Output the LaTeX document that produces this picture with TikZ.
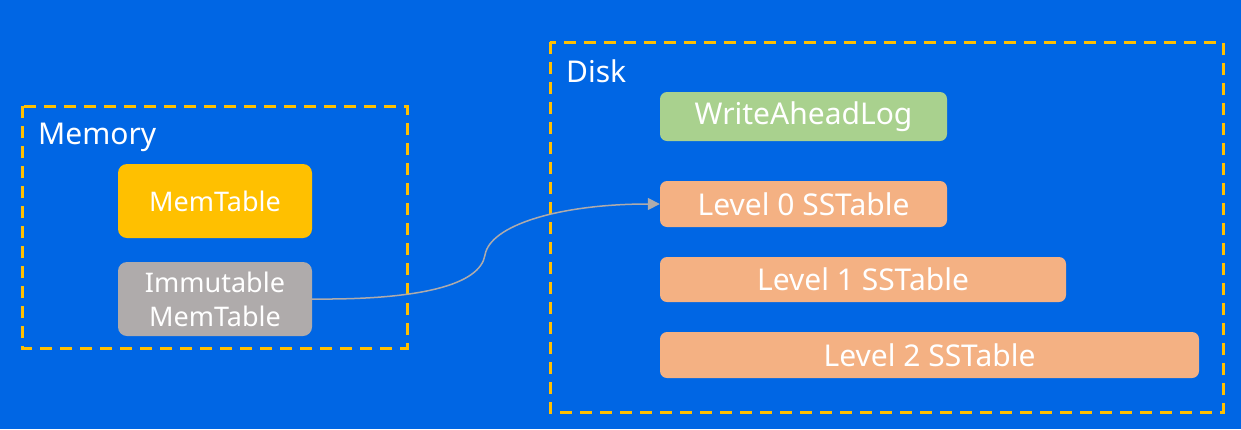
\documentclass[tikz,border=0pt]{standalone}
\usepackage{fontspec}
\setmainfont{Noto Sans}
\usetikzlibrary{arrows.meta}
\definecolor{bgblue}{RGB}{0,102,228}
\definecolor{dashyel}{RGB}{255,192,0}
\definecolor{memyel}{RGB}{255,192,0}
\definecolor{immgray}{RGB}{175,171,171}
\definecolor{walgreen}{RGB}{169,209,142}
\definecolor{sstorange}{RGB}{244,177,131}
\tikzset{
  region/.style={draw=dashyel, line width=3pt, dash pattern=on 12pt off 8pt},
  regionlabel/.style={text=white, font=\fontsize{30}{34}\selectfont, anchor=west, inner sep=0pt},
  box/.style={rounded corners=9pt, text=white, font=\fontsize{30}{34}\selectfont, align=center, inner sep=0pt, draw=none},
  membox/.style={box, font=\fontsize{27}{34}\selectfont, minimum width=194pt, minimum height=74pt},
  conn/.style={draw=immgray, line width=1.5pt, -{Triangle[length=12pt,width=12pt]}}
}
\begin{document}
\begin{tikzpicture}[x=1pt,y=-1pt]
\useasboundingbox (0,0) rectangle (1241,429);
\fill[bgblue] (0,0) rectangle (1241,429);
% regions
\draw[region] (22,106) rectangle (407,348);
\draw[region] (550,42) rectangle (1223,412);
\node[regionlabel] (memlbl) at (38,137) {Memory};
\node[regionlabel] (disklbl) at (566,71) {Disk};
% memory boxes
\node[membox, fill=memyel] (mem) at (215,201) {MemTable};
\node[membox, fill=immgray] (imm) at (215,299) {Immutable\\MemTable};
% disk boxes
\node[box, fill=walgreen, minimum width=287pt, minimum height=49pt, rounded corners=7pt] (wal) at (803.5,116.5) {WriteAheadLog};
\node[box, fill=sstorange, minimum width=287pt, minimum height=46pt, rounded corners=7pt] (l0) at (803.5,204) {Level 0 SSTable};
\node[box, fill=sstorange, minimum width=406pt, minimum height=45pt, rounded corners=7pt] (l1) at (863,279.5) {Level 1 SSTable};
\node[box, fill=sstorange, minimum width=539pt, minimum height=46pt, rounded corners=7pt] (l2) at (929.5,355) {Level 2 SSTable};
% connector
\draw[conn] (imm.east) .. controls (420,300) and (480,285) .. (485,255) .. controls (490,225) and (560,204) .. (l0.west);
\end{tikzpicture}
\end{document}
